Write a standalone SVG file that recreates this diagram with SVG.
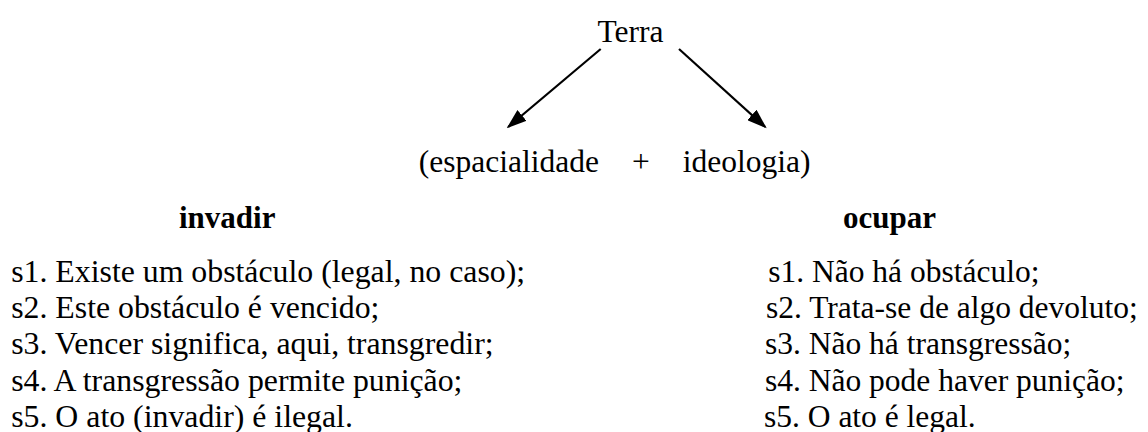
<svg xmlns="http://www.w3.org/2000/svg" width="1148" height="432" viewBox="0 0 1148 432">
  <style>
    .t { font-family: "Liberation Serif", "Times New Roman", serif; font-size: 31.5px; fill: #000; }
    .l { font-size: 31.8px; }
    .h { font-family: "Liberation Serif", "Times New Roman", serif; font-size: 31px; font-weight: bold; fill: #000; }
    .c { stroke: #000; stroke-width: 2.2; fill: none; }
  </style>
  <defs>
    <marker id="ah" markerUnits="userSpaceOnUse" markerWidth="20" markerHeight="14" refX="18" refY="7" orient="auto">
      <path d="M0,0 L20,7 L0,14 z" fill="#000"/>
    </marker>
  </defs>
  <rect width="1148" height="432" fill="#fff"/>
  <g id="terra">
    <text class="t" x="597.5" y="41.7">Terra</text>
  </g>
  <g id="connectors">
    <line class="c" x1="600.7" y1="49" x2="508.2" y2="127" marker-end="url(#ah)"/>
    <line class="c" x1="679" y1="49" x2="765.2" y2="127" marker-end="url(#ah)"/>
  </g>
  <g id="espacialidade-ideologia">
    <text class="t" y="172"><tspan x="418.8">(espacialidade</tspan><tspan x="632">+</tspan><tspan x="682.8">ideologia)</tspan></text>
  </g>
  <g id="invadir">
    <text class="h" x="179" y="228">invadir</text>
    <text class="t l" x="11.2" y="282">s1. Existe um obstáculo (legal, no caso);</text>
    <text class="t l" x="11.2" y="318.2">s2. Este obstáculo é vencido;</text>
    <text class="t l" x="11.2" y="354.4">s3. Vencer significa, aqui, transgredir;</text>
    <text class="t l" x="11.2" y="390.6">s4. A transgressão permite punição;</text>
    <text class="t l" x="11.2" y="426.8">s5. O ato (invadir) é ilegal.</text>
  </g>
  <g id="ocupar">
    <text class="h" x="843" y="228">ocupar</text>
    <text class="t" x="768.2" y="282">s1. Não há obstáculo;</text>
    <text class="t" x="766" y="318.2">s2. Trata-se de algo devoluto;</text>
    <text class="t" x="765" y="354.4">s3. Não há transgressão;</text>
    <text class="t" x="765" y="390.6">s4. Não pode haver punição;</text>
    <text class="t" x="764" y="426.8">s5. O ato é legal.</text>
  </g>
</svg>
